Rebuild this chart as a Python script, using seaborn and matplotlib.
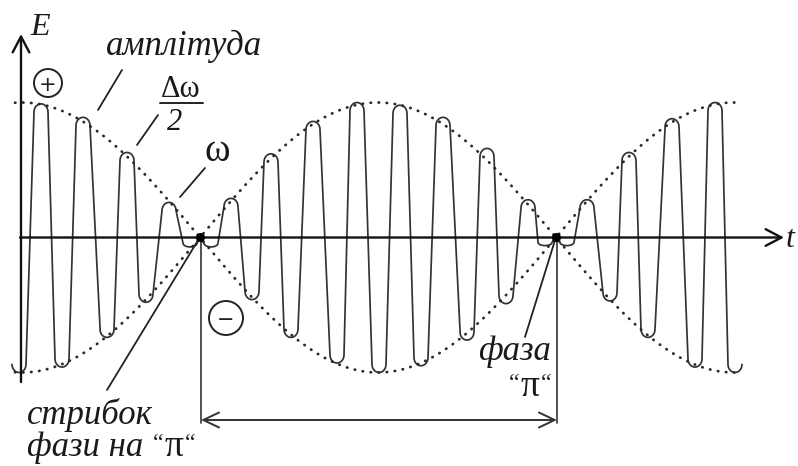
import numpy as np
import pandas as pd
import matplotlib
matplotlib.use("Agg")
import matplotlib.pyplot as plt
from matplotlib.patches import Ellipse
import seaborn as sns

# Carrier extrema: time (arbitrary units) and normalised field E
extremum_t = [-2, 20, 41, 62, 86, 106, 125, 148, 169, 179, 190, 210, 231, 250,
              270, 292, 316, 336, 358, 379, 400, 422, 446, 466, 485, 507, 524,
              535, 546, 566, 589, 608, 627, 651, 674, 694, 714]
extremum_e = [-1.00, 0.99, -0.96, 0.89, -0.74, 0.63, -0.48, 0.26, -0.07, 0.00,
              -0.07, 0.29, -0.46, 0.62, -0.74, 0.86, -0.93, 1.00, -1.00, 0.98,
              -0.95, 0.89, -0.76, 0.66, -0.49, 0.28, -0.06, 0.00, -0.06, 0.28,
              -0.47, 0.63, -0.74, 0.88, -0.96, 1.00, -1.00]

# Beat envelope: zeros (phase jumps) and peak amplitude
envelope_nodes = [179, 535]
envelope_peak = 1.0
envelope_span = [-6, 716]

W, H = 798, 466
X0, Y0, SCALE = 21, 237.5, 135.0   # axis origin and unit amplitude, in px


def tx(x):
    return x - X0


def ey(y):
    return (Y0 - y) / SCALE


def carrier_path(ts, es, half_w=7.0, cap=0.06, n=14):
    """Rounded caps at each extremum joined by straight flanks."""
    xs, ys = [], []
    for i, (t, e) in enumerate(zip(ts, es)):
        nb = []
        if i > 0:
            nb.append(abs(e - es[i - 1]))
        if i < len(es) - 1:
            nb.append(abs(e - es[i + 1]))
        if e == 0.0:
            xs.append(t)
            ys.append(e)
            continue
        s = 1.0 if e > 0 else -1.0
        d = min(cap, 0.4 * min(nb))
        th = np.linspace(-np.pi / 2, np.pi / 2, n)
        xs.extend(t + half_w * np.sin(th))
        ys.extend(e - s * d * (1 - np.cos(th)))
    return np.array(xs), np.array(ys)


sns.set_theme(style="white")
plt.rcParams["font.family"] = ["Liberation Serif", "DejaVu Serif"]

fig = plt.figure(figsize=(W / 100, H / 100), dpi=100)
ax = fig.add_axes([0, 0, 1, 1])
ax.set_xlim(tx(0), tx(W))
ax.set_ylim(ey(H), ey(0))
ax.axis("off")

# carrier oscillation
cx, cy = carrier_path(extremum_t, extremum_e)
carrier = pd.DataFrame({"t": cx, "E": cy})
sns.lineplot(data=carrier, x="t", y="E", sort=False, estimator=None,
             color="#333333", lw=1.25, ax=ax)

# dotted envelope (upper and lower)
et = np.linspace(envelope_span[0], envelope_span[1], 600)
half = envelope_nodes[1] - envelope_nodes[0]
env = envelope_peak * np.abs(np.sin(np.pi * (et - envelope_nodes[0]) / half))
envelope = pd.DataFrame({"t": np.concatenate([et, et]),
                         "E": np.concatenate([env, -env]),
                         "side": ["upper"] * len(et) + ["lower"] * len(et)})
sns.lineplot(data=envelope, x="t", y="E", units="side", estimator=None,
             sort=False, color="#2a2a2a", lw=2.0, ax=ax,
             linestyle=(0, (0.15, 2.75)), dash_capstyle="round")

# coordinate axes
axis_kw = dict(arrowstyle="->,head_length=0.95,head_width=0.5",
               lw=1.7, color="#111111", shrinkA=0, shrinkB=0)
ax.annotate("", xy=(tx(784), 0), xytext=(tx(20), 0), arrowprops=axis_kw)
ax.annotate("", xy=(0, ey(34)), xytext=(0, ey(382)), arrowprops=axis_kw)

# phase-jump points
ax.plot(envelope_nodes, [0, 0], "o", color="black", ms=5.5, zorder=5)

# period marker
for n in envelope_nodes:
    ax.plot([n + 1, n + 1], [0, ey(423)], color="#333333", lw=1.2)
ax.annotate("", xy=(envelope_nodes[1] + 1, ey(420)),
            xytext=(envelope_nodes[0] + 1, ey(420)),
            arrowprops=dict(arrowstyle="<->,head_length=0.95,head_width=0.45",
                            lw=1.4, color="#333333", shrinkA=0, shrinkB=0))

# leader lines
leaders = [((122, 70), (98, 110)), ((158, 115), (137, 145)),
           ((205, 168), (180, 197)), ((107, 390), (200, 237)),
           ((525, 337), (556, 237))]
for (xa, ya), (xb, yb) in leaders:
    ax.plot([tx(xa), tx(xb)], [ey(ya), ey(yb)], color="#222222", lw=1.3)

# signed-lobe circles
for (xc, yc, r, sym) in [(48, 83, 14, "+"), (226, 318, 17, "−")]:
    ax.add_patch(Ellipse((tx(xc), ey(yc)), 2 * r, 2 * r / SCALE, fill=False,
                         ec="#222222", lw=1.4))
    ax.text(tx(xc), ey(yc), sym, ha="center", va="center_baseline",
            fontsize=15, color="#222222", family=["DejaVu Sans"])

# fraction Δω/2
ax.plot([tx(160), tx(203)], [ey(103), ey(103)], color="#222222", lw=1.4)


def label(x, y, s, size, style="italic", ha="left"):
    return ax.text(tx(x), ey(y), s, fontsize=size, style=style, ha=ha,
                   va="baseline", color="#1a1a1a")


def quoted_pi(x, y, size=27, qsize=17):
    """Upright π between small raised quotes, starting at pixel x."""
    parts = [("“", qsize, -6), ("π", size, 0), ("“", qsize, -6)]
    for s, fs, dy in parts:
        t = label(x, y + dy, s, fs, style="normal")
        fig.canvas.draw()
        x = t.get_window_extent().x1 + 1


label(30, 35, "E", 23)
label(786, 247, "t", 23)
label(106, 55, "амплітуда", 25)
label(181, 97, "Δω", 22, style="normal", ha="center")
label(175, 130, "2", 22, ha="center")
label(204, 161, "ω", 28, style="normal")
label(27, 424, "стрибок", 25)
first = label(27, 456, "фази на ", 25)
label(478, 360, "фаза", 25)
quoted_pi(509, 396)

fig.canvas.draw()
quoted_pi(first.get_window_extent().x1 + 1, 456)

fig.savefig("out.png", dpi=100)
